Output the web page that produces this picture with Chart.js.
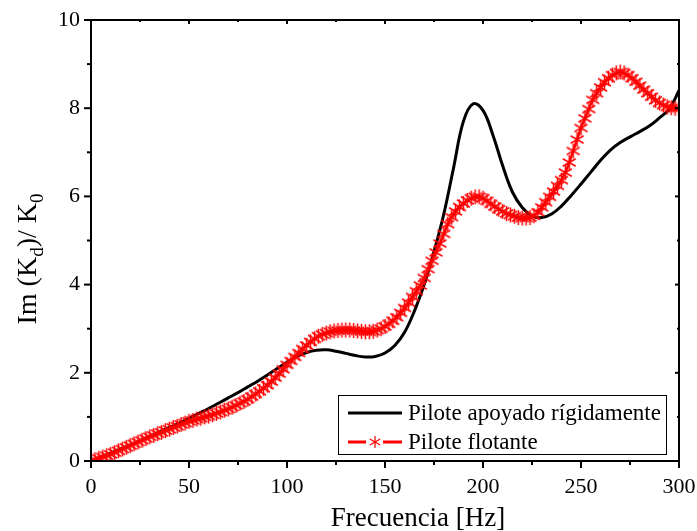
<!DOCTYPE html>
<html lang="es">
<head>
<meta charset="UTF-8">
<title>Im(Kd)/K0</title>
<style>
    body { margin: 0; background: #fff; }
    #myChart { display: block; }
</style>
</head>
<body>
<canvas id="myChart" width="697" height="531"></canvas>
<script src="https://cdn.jsdelivr.net/npm/chart.js"></script>
<script>
// Pilote apoyado rígidamente (cada 5 Hz)
const freq_rigido = [0, 5, 10, 15, 20, 25, 30, 35, 40, 45, 50, 55, 60, 65, 70, 75, 80, 85, 90, 95,
    100, 105, 110, 115, 120, 125, 130, 135, 140, 145, 150, 155, 160, 165, 170, 175, 180, 185, 190, 195,
    200, 205, 210, 215, 220, 225, 230, 235, 240, 245, 250, 255, 260, 265, 270, 275, 280, 285, 290, 295, 300];
const im_rigido = [0, 0.09, 0.18, 0.27, 0.36, 0.46, 0.56, 0.66, 0.76, 0.86, 0.97, 1.08, 1.19, 1.31, 1.43, 1.55, 1.68, 1.81, 1.95, 2.1,
    2.24, 2.37, 2.46, 2.51, 2.52, 2.49, 2.44, 2.39, 2.36, 2.37, 2.45, 2.62, 2.92, 3.4, 4.0, 4.75, 5.6, 6.65, 7.7, 8.1,
    7.95, 7.4, 6.7, 6.1, 5.75, 5.56, 5.52, 5.6, 5.78, 6.02, 6.28, 6.55, 6.82, 7.05, 7.22, 7.35, 7.47, 7.6, 7.78, 7.98, 8.4];

// Pilote flotante (cada 2 Hz)
const freq_flotante = [0, 2, 4, 6, 8, 10, 12, 14, 16, 18, 20, 22, 24, 26, 28, 30, 32, 34, 36, 38,
    40, 42, 44, 46, 48, 50, 52, 54, 56, 58, 60, 62, 64, 66, 68, 70, 72, 74, 76, 78,
    80, 82, 84, 86, 88, 90, 92, 94, 96, 98, 100, 102, 104, 106, 108, 110, 112, 114, 116, 118,
    120, 122, 124, 126, 128, 130, 132, 134, 136, 138, 140, 142, 144, 146, 148, 150, 152, 154, 156, 158,
    160, 162, 164, 166, 168, 170, 172, 174, 176, 178, 180, 182, 184, 186, 188, 190, 192, 194, 196, 198,
    200, 202, 204, 206, 208, 210, 212, 214, 216, 218, 220, 222, 224, 226, 228, 230, 232, 234, 236, 238,
    240, 242, 244, 246, 248, 250, 252, 254, 256, 258, 260, 262, 264, 266, 268, 270, 272, 274, 276, 278,
    280, 282, 284, 286, 288, 290, 292, 294, 296, 298, 300];
const im_flotante = [0, 0.03, 0.06, 0.09, 0.12, 0.15, 0.19, 0.23, 0.27, 0.31, 0.35, 0.39, 0.43, 0.47, 0.51, 0.55, 0.58, 0.62, 0.65, 0.69,
    0.72, 0.76, 0.79, 0.83, 0.86, 0.9, 0.92, 0.95, 0.97, 1.0, 1.02, 1.05, 1.08, 1.11, 1.15, 1.18, 1.22, 1.26, 1.31, 1.35,
    1.4, 1.46, 1.52, 1.58, 1.65, 1.72, 1.8, 1.89, 1.98, 2.08, 2.18, 2.27, 2.36, 2.45, 2.54, 2.62, 2.7, 2.77, 2.83, 2.87,
    2.9, 2.93, 2.95, 2.96, 2.97, 2.97, 2.97, 2.96, 2.95, 2.94, 2.93, 2.93, 2.94, 2.97, 3.0, 3.05, 3.11, 3.18, 3.26, 3.36,
    3.47, 3.59, 3.72, 3.85, 3.98, 4.15, 4.35, 4.54, 4.73, 4.93, 5.15, 5.37, 5.53, 5.66, 5.76, 5.84, 5.91, 5.96, 5.99, 5.99,
    5.96, 5.9, 5.83, 5.77, 5.71, 5.66, 5.61, 5.58, 5.55, 5.52, 5.51, 5.51, 5.52, 5.56, 5.64, 5.75, 5.87, 5.99, 6.11, 6.24,
    6.37, 6.54, 6.77, 7.03, 7.29, 7.55, 7.77, 7.98, 8.19, 8.34, 8.47, 8.59, 8.68, 8.75, 8.8, 8.82, 8.8, 8.75, 8.68, 8.6,
    8.51, 8.42, 8.34, 8.26, 8.18, 8.12, 8.07, 8.03, 8.01, 8.0, 8.0];

const etiquetas = ['Pilote apoyado rígidamente', 'Pilote flotante'];
const x_major = [0, 50, 100, 150, 200, 250, 300];
const x_minor = [25, 75, 125, 175, 225, 275];
const y_major = [0, 2, 4, 6, 8, 10];
const y_minor = [1, 3, 5, 7, 9];

const FONT = '"Liberation Serif", "Times New Roman", serif';

function to_xy(xs, ys) {
    return xs.map((x, i) => ({ x: x, y: ys[i] }));
}

// asterisco de 6 brazos como marcador
function make_asterisk(r, color, lw) {
    const cv = document.createElement('canvas');
    const s = Math.ceil(r * 2 + 2);
    cv.width = s;
    cv.height = s;
    const c = cv.getContext('2d');
    c.strokeStyle = color;
    c.lineWidth = lw;
    c.beginPath();
    for (let k = 0; k < 3; k++) {
        const ang = Math.PI / 2 + k * Math.PI / 3;
        c.moveTo(s / 2 + r * Math.cos(ang), s / 2 + r * Math.sin(ang));
        c.lineTo(s / 2 - r * Math.cos(ang), s / 2 - r * Math.sin(ang));
    }
    c.stroke();
    return cv;
}
const star_plot = make_asterisk(7.5, '#ff0000', 1.5);
const star_legend = make_asterisk(6, '#ff0000', 1.2);

// marco, marcas, etiquetas, titulos y leyenda
const marco = {
    id: 'marco',
    afterDraw(chart) {
        const c = chart.ctx;
        const a = chart.chartArea;
        const sx = chart.scales.x;
        const sy = chart.scales.y;
        c.save();
        c.strokeStyle = '#000';
        c.lineWidth = 2;
        c.strokeRect(a.left, a.top, a.right - a.left, a.bottom - a.top);

        function tick(x1, y1, x2, y2) {
            c.beginPath();
            c.moveTo(x1, y1);
            c.lineTo(x2, y2);
            c.stroke();
        }
        x_major.forEach(v => {
            const px = sx.getPixelForValue(v);
            tick(px, a.bottom, px, a.bottom + 7);
            tick(px, a.top, px, a.top + 4);
        });
        x_minor.forEach(v => {
            const px = sx.getPixelForValue(v);
            tick(px, a.bottom, px, a.bottom + 4);
            tick(px, a.top, px, a.top + 2);
        });
        y_major.forEach(v => {
            const py = sy.getPixelForValue(v);
            tick(a.left - 7, py, a.left, py);
            tick(a.right - 4, py, a.right, py);
        });
        y_minor.forEach(v => {
            const py = sy.getPixelForValue(v);
            tick(a.left - 4, py, a.left, py);
            tick(a.right - 2, py, a.right, py);
        });

        // etiquetas de los ejes
        c.fillStyle = '#000';
        c.font = '22px ' + FONT;
        c.textAlign = 'center';
        c.textBaseline = 'middle';
        x_major.forEach(v => c.fillText(String(v), sx.getPixelForValue(v), a.bottom + 26));
        c.textAlign = 'right';
        y_major.forEach(v => c.fillText(String(v), a.left - 11, sy.getPixelForValue(v)));

        // titulo eje X
        c.textAlign = 'center';
        c.textBaseline = 'alphabetic';
        c.font = '27px ' + FONT;
        c.fillText('Frecuencia [Hz]', 418, 526);

        // titulo eje Y: Im (K_d)/ K_0
        c.translate(36, 259);
        c.rotate(-Math.PI / 2);
        c.textAlign = 'left';
        const big = '28px ' + FONT;
        const small = '19px ' + FONT;
        const partes = [['Im (K', big, 0], ['d', small, 7], [')/ K', big, 0], ['0', small, 7]];
        let w = 0;
        partes.forEach(p => { c.font = p[1]; w += c.measureText(p[0]).width; });
        let x = -w / 2;
        partes.forEach(p => {
            c.font = p[1];
            c.fillText(p[0], x, p[2]);
            x += c.measureText(p[0]).width;
        });
        c.restore();

        // leyenda
        c.save();
        const lx = 338, ly = 395, lw = 328, lh = 59;
        c.fillStyle = '#fff';
        c.fillRect(lx, ly, lw, lh);
        c.strokeStyle = '#000';
        c.lineWidth = 1;
        c.strokeRect(lx + 0.5, ly + 0.5, lw, lh);
        c.font = '23px ' + FONT;
        c.textBaseline = 'middle';
        chart.data.datasets.forEach((ds, i) => {
            const yy = ly + 18 + i * 29;
            c.strokeStyle = ds.borderColor;
            c.lineWidth = 3;
            c.beginPath();
            if (ds.pointRadius > 0) {
                c.moveTo(lx + 10, yy);
                c.lineTo(lx + 28, yy);
                c.moveTo(lx + 45, yy);
                c.lineTo(lx + 64, yy);
                c.stroke();
                c.drawImage(star_legend, lx + 37 - star_legend.width / 2, yy - star_legend.height / 2);
            } else {
                c.moveTo(lx + 10, yy);
                c.lineTo(lx + 64, yy);
                c.stroke();
            }
            c.fillStyle = '#000';
            c.fillText(ds.label, lx + 70, yy + 1);
        });
        c.restore();
    }
};

const ctx = document.getElementById('myChart');

let config = {
    type: 'line',
    data: {
        datasets: [
            {
                label: etiquetas[0],
                data: to_xy(freq_rigido, im_rigido),
                borderColor: '#000',
                borderWidth: 3,
                pointRadius: 0,
                tension: 0.4,
                order: 2
            },
            {
                label: etiquetas[1],
                data: to_xy(freq_flotante, im_flotante),
                borderColor: '#ff0000',
                borderWidth: 2.5,
                pointStyle: star_plot,
                pointRadius: 8,
                tension: 0.4,
                order: 1
            }
        ]
    },
    options: {
        responsive: false,
        animation: false,
        layout: { padding: { top: 20, right: 18, left: 0, bottom: 0 } },
        plugins: {
            legend: { display: false },
            tooltip: { enabled: false }
        },
        scales: {
            x: {
                type: 'linear',
                min: 0,
                max: 300,
                afterFit(s) { s.height = 70; },
                grid: { display: false, drawTicks: false },
                border: { display: false },
                ticks: { display: false }
            },
            y: {
                min: 0,
                max: 10,
                afterFit(s) { s.width = 91; },
                grid: { display: false, drawTicks: false },
                border: { display: false },
                ticks: { display: false }
            }
        }
    },
    plugins: [marco]
};

let myChart = new Chart(ctx, config);
</script>
</body>
</html>
